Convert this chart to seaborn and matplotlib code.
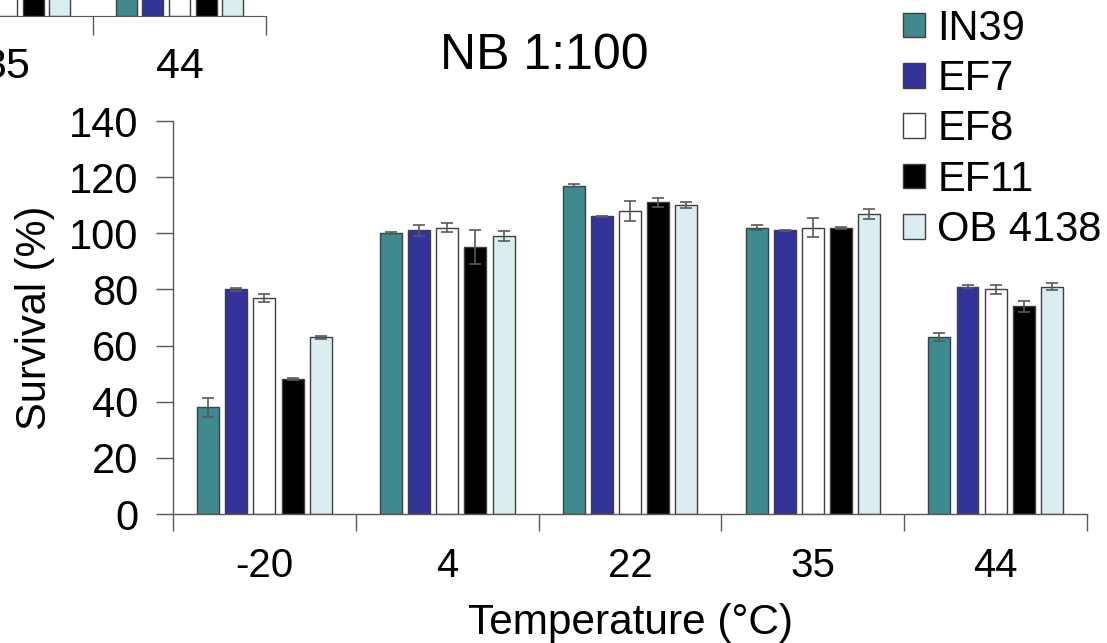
import pandas as pd
import matplotlib.pyplot as plt
import seaborn as sns

temps = ["-20", "4", "22", "35", "44"]
strains = ["IN39", "EF7", "EF8", "EF11", "OB 4138"]
colors = ["#3E8A8F", "#333399", "#FFFFFF", "#000000", "#DAEDF1"]

# survival (%) and error, NB 1:100
in39 = [38, 100, 117, 102, 63]
in39_err = [3.5, 0.3, 0.5, 1.0, 1.5]
ef7 = [80, 101, 106, 101, 81]
ef7_err = [0.4, 2.0, 0.3, 0.3, 0.6]
ef8 = [77, 102, 108, 102, 80]
ef8_err = [1.4, 1.5, 3.5, 3.4, 1.6]
ef11 = [48, 95, 111, 102, 74]
ef11_err = [0.3, 6.0, 1.6, 0.3, 2.0]
ob4138 = [63, 99, 110, 107, 81]
ob4138_err = [0.5, 1.8, 1.0, 1.8, 1.3]

# neighbouring panel above (only its bottom edge is visible)
prev_vals = [90, 95, 100, 95, 90]

values = [in39, ef7, ef8, ef11, ob4138]
errors = [in39_err, ef7_err, ef8_err, ef11_err, ob4138_err]

df = pd.DataFrame({
    "temp": [t for _ in strains for t in temps],
    "strain": [s for s in strains for _ in temps],
    "survival": [v for vals in values for v in vals],
})
prev_df = pd.DataFrame({
    "temp": [t for _ in strains for t in temps],
    "strain": [s for s in strains for _ in temps],
    "survival": [v for _ in strains for v in prev_vals],
})

sns.set_style("white")
plt.rcParams["font.family"] = ["Liberation Sans", "DejaVu Sans"]
plt.rcParams["text.color"] = "black"
plt.rcParams["axes.labelcolor"] = "black"
plt.rcParams["xtick.labelcolor"] = "black"
plt.rcParams["ytick.labelcolor"] = "black"

edge = "#404040"
axis_col = "#595959"

fig = plt.figure(figsize=(11.07, 6.43), dpi=100)

# main panel
ax = fig.add_axes([0.1563, 0.2006, 0.8257, 0.6112])
sns.barplot(data=df, x="temp", y="survival", hue="strain", order=temps,
            hue_order=strains, palette=colors, saturation=1, width=0.77,
            gap=0.22, errorbar=None, edgecolor=edge, linewidth=1.0, ax=ax,
            legend=True)

for cont, err in zip(ax.containers, errors):
    xs = [p.get_x() + p.get_width() / 2 for p in cont.patches]
    ys = [p.get_height() for p in cont.patches]
    ax.errorbar(xs, ys, yerr=err, fmt="none", ecolor=axis_col,
                elinewidth=1.2, capsize=4.5, capthick=1.2)

ax.set_ylim(0, 140)
ax.set_xlim(-0.5, 4.5)
ax.set_yticks(range(0, 141, 20))
ax.set_xticks(range(len(temps)))
ax.set_xticks([i - 0.5 for i in range(len(temps) + 1)], minor=True)
ax.tick_params(axis="x", which="major", bottom=True, length=0, labelsize=29,
               pad=24)
ax.tick_params(axis="x", which="minor", bottom=True, length=12, width=1,
               color=axis_col, direction="out")
ax.tick_params(axis="y", left=True, length=12, width=1, color=axis_col,
               direction="out", labelsize=30, pad=13)
ax.set_xlabel("Temperature (°C)", fontsize=30.5, labelpad=13)
ax.set_ylabel("Survival (%)", fontsize=30)
ax.yaxis.set_label_coords(-0.1291, 0.5)
for side in ["top", "right"]:
    ax.spines[side].set_visible(False)
for side in ["left", "bottom"]:
    ax.spines[side].set_color(axis_col)
    ax.spines[side].set_linewidth(1.0)

handles, labels = ax.get_legend_handles_labels()
ax.legend_.remove()
fig.legend(handles, labels, loc="upper left", bbox_to_anchor=(0.7966, 1.019),
           frameon=False, fontsize=30, handlelength=0.53, handleheight=0.53,
           handletextpad=0.3, labelspacing=0.25, borderpad=0)

fig.text(544 / 1107, 1 - 69 / 643, "NB 1:100", fontsize=36, ha="center",
         va="baseline")

# fragment of the panel above
ax2 = fig.add_axes([-599 / 1107, 1 - 16 / 643, 865 / 1107, 0.3])
sns.barplot(data=prev_df, x="temp", y="survival", hue="strain", order=temps,
            hue_order=strains, palette=colors, saturation=1, width=0.77,
            gap=0.22, errorbar=None, edgecolor=edge, linewidth=1.0, ax=ax2,
            legend=False)
ax2.set_ylim(0, 140)
ax2.set_xlim(-0.5, 4.5)
ax2.set_xticks(range(len(temps)))
ax2.set_xticks([i - 0.5 for i in range(len(temps) + 1)], minor=True)
ax2.tick_params(axis="x", which="major", bottom=True, length=0, labelsize=31,
                pad=22)
ax2.tick_params(axis="x", which="minor", bottom=True, length=14, width=1,
                color=axis_col, direction="out")
ax2.set_yticks([])
ax2.set_xlabel("")
ax2.set_ylabel("")
for side in ["top", "right", "left"]:
    ax2.spines[side].set_visible(False)
ax2.spines["bottom"].set_color(axis_col)

fig.savefig("out.png", dpi=100)
